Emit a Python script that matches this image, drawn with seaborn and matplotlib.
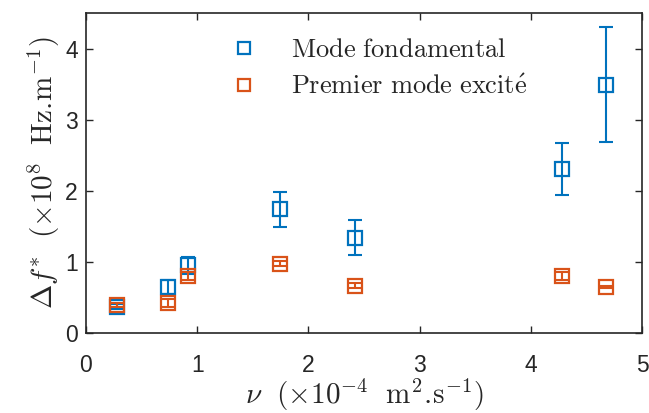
import numpy as np
import pandas as pd
import matplotlib
matplotlib.use("Agg")
import matplotlib.pyplot as plt
import seaborn as sns

# viscosity values (x 1e-4 m^2/s)
nu = [0.28, 0.74, 0.915, 1.745, 2.42, 4.275, 4.675]

# fundamental mode
fund_val = [0.37, 0.64, 0.95, 1.74, 1.34, 2.31, 3.49]
fund_err = [0.03, 0.10, 0.12, 0.245, 0.25, 0.365, 0.81]

# first excited mode
exc_val = [0.39, 0.42, 0.80, 0.975, 0.665, 0.80, 0.645]
exc_err = [0.03, 0.05, 0.05, 0.03, 0.03, 0.05, 0.02]

labels = [r"$\mathrm{Mode\ fondamental}$", r"$\mathrm{Premier\ mode\ excit\acute{e}}$"]
colors = ["#0072BD", "#D95319"]

df = pd.DataFrame({
    "nu": nu * 2,
    "val": fund_val + exc_val,
    "err": fund_err + exc_err,
    "mode": [labels[0]] * len(nu) + [labels[1]] * len(nu),
})

sns.set_theme(style="ticks")
plt.rcParams["font.family"] = ["Liberation Sans", "DejaVu Sans"]
plt.rcParams["mathtext.fontset"] = "cm"

fig = plt.figure(figsize=(6.49, 4.13), dpi=100)
ax = fig.add_axes([0.1325, 0.194, 0.857, 0.7745])

for lab, col in zip(labels, colors):
    sub = df[df["mode"] == lab]
    ax.errorbar(sub["nu"], sub["val"], yerr=sub["err"], fmt="none",
                ecolor=col, elinewidth=1.5, capsize=4.7, capthick=1.5)
    ax.plot(sub["nu"], sub["val"], "s", ms=9.5, mfc="none", mec=col,
            mew=1.6, label=lab)

ax.set_xlim(0, 5)
ax.set_ylim(0, 4.5)
ax.set_xticks([0, 1, 2, 3, 4, 5])
ax.set_yticks([0, 1, 2, 3, 4])
ax.tick_params(direction="in", top=True, right=True, length=5, width=1,
               labelsize=16.5, colors="#262626")
ax.tick_params(axis="x", pad=15)
ax.tick_params(axis="y", pad=6)
for s in ax.spines.values():
    s.set_linewidth(1.2)
    s.set_color("#262626")

ax.set_xlabel(r"$\nu\ \ (\times 10^{-4}\ \ \mathrm{m}^2\mathrm{.\!s}^{-1})$",
              fontsize=21, color="#262626", labelpad=0)
ax.set_ylabel(r"$\Delta f^{*}\ \ (\times 10^{8}\ \ \mathrm{Hz.\!m}^{-1})$",
              fontsize=21, color="#262626", labelpad=2)

ax.legend(loc="upper left", bbox_to_anchor=(0.217, 0.996), frameon=False,
          fontsize=19, handletextpad=1.3, labelspacing=0.47, handlelength=1.0,
          borderpad=0.4, markerscale=0.95)

fig.savefig("out.png", dpi=100)
